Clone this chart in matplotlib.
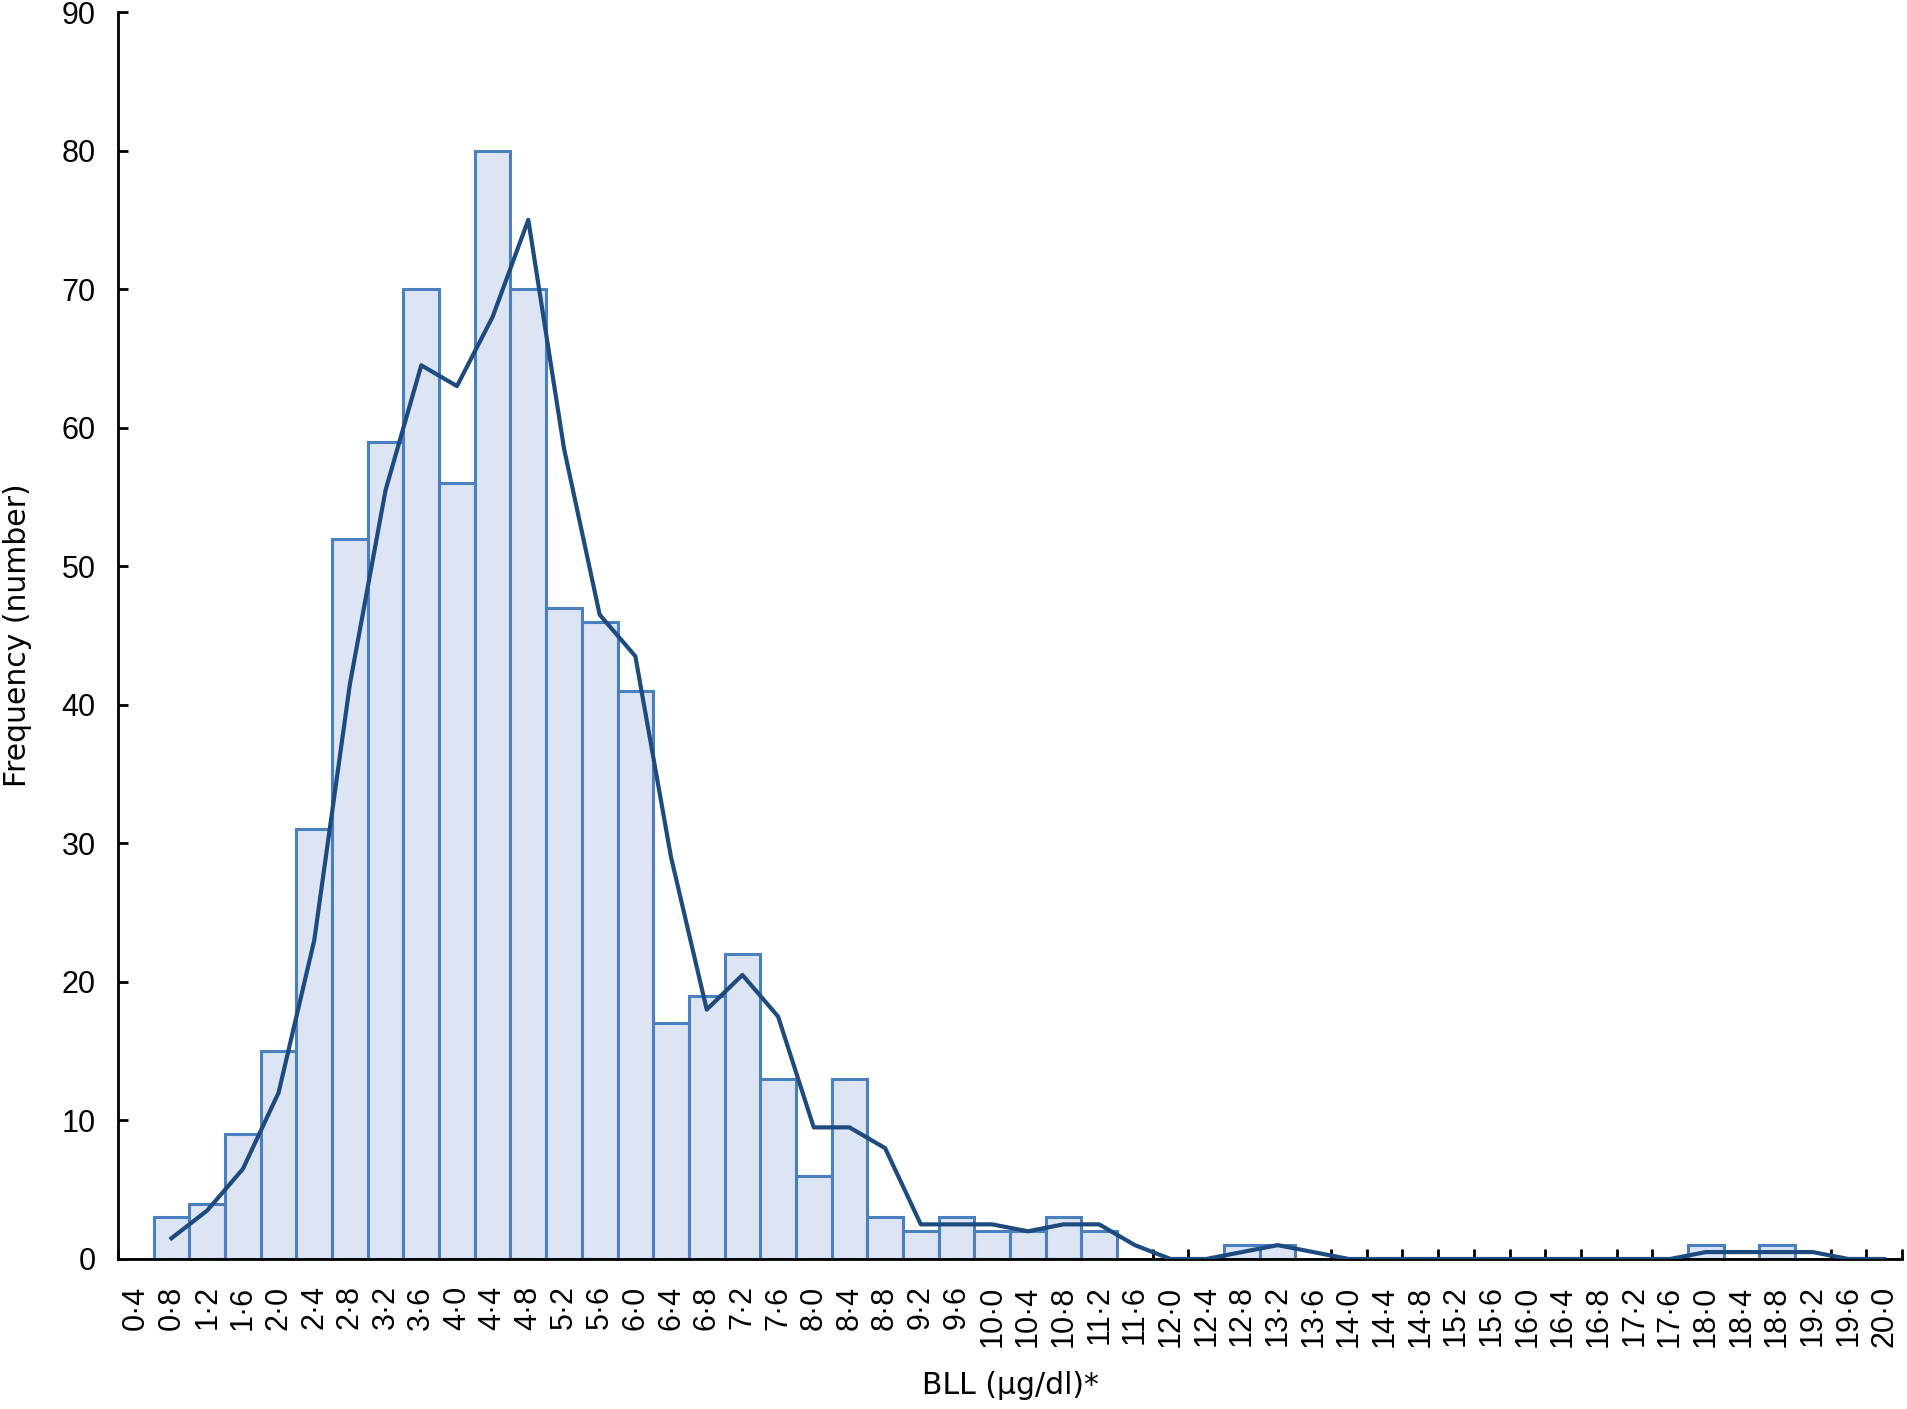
import numpy as np
from matplotlib import pyplot as plt
from matplotlib.ticker import FixedLocator

plt.rcParams['font.family'] = ['Liberation Sans', 'DejaVu Sans']

# BLL class labels (µg/dl)
bll_labels = ['0·4', '0·8', '1·2', '1·6', '2·0', '2·4', '2·8', '3·2', '3·6', '4·0',
              '4·4', '4·8', '5·2', '5·6', '6·0', '6·4', '6·8', '7·2', '7·6', '8·0',
              '8·4', '8·8', '9·2', '9·6', '10·0', '10·4', '10·8', '11·2', '11·6', '12·0',
              '12·4', '12·8', '13·2', '13·6', '14·0', '14·4', '14·8', '15·2', '15·6', '16·0',
              '16·4', '16·8', '17·2', '17·6', '18·0', '18·4', '18·8', '19·2', '19·6', '20·0']

# frequency per class (bars)
freq = [0, 3, 4, 9, 15, 31, 52, 59, 70, 56,
        80, 70, 47, 46, 41, 17, 19, 22, 13, 6,
        13, 3, 2, 3, 2, 2, 3, 2, 0, 0,
        0, 1, 1, 0, 0, 0, 0, 0, 0, 0,
        0, 0, 0, 0, 1, 0, 1, 0, 0, 0]

# trend line (starts at 0·8)
trend = [1.5, 3.5, 6.5, 12, 23, 41.5, 55.5, 64.5, 63,
         68, 75, 58.5, 46.5, 43.5, 29, 18, 20.5, 17.5, 9.5,
         9.5, 8, 2.5, 2.5, 2.5, 2, 2.5, 2.5, 1, 0,
         0, 0.5, 1, 0.5, 0, 0, 0, 0, 0, 0,
         0, 0, 0, 0, 0.5, 0.5, 0.5, 0.5, 0, 0]

W, H = 1908, 1409
fig = plt.figure(figsize=(W/100, H/100), dpi=100)
ax = fig.add_axes([118/W, 1 - 1259/H, (1902-118)/W, (1259-12)/H])

x = np.arange(len(bll_labels))
ax.bar(x, freq, width=1.0, color='#dde4f4', edgecolor='#4a80c0', linewidth=2.2, zorder=2)
ax.plot(x[1:], trend, color='#1d4b7f', linewidth=3.0, zorder=3)

ax.set_xlim(-0.5, len(bll_labels) - 0.5)
ax.set_ylim(0, 90)

for s in ['top', 'right']:
    ax.spines[s].set_visible(False)
for s in ['left', 'bottom']:
    ax.spines[s].set_linewidth(2.0)
    ax.spines[s].set_zorder(2.5)

ax.set_yticks(np.arange(0, 91, 10))
ax.tick_params(axis='y', direction='in', length=7, width=2.0, labelsize=22, pad=16)

ax.set_xticks(x)
ax.set_xticklabels(bll_labels, rotation=90, fontsize=22)
ax.tick_params(axis='x', which='major', length=0, pad=19)
ax.xaxis.set_minor_locator(FixedLocator(np.arange(len(bll_labels) + 1) - 0.5))
ax.tick_params(axis='x', which='minor', direction='in', length=7, width=2.0)

ax.set_ylabel('Frequency (number)', fontsize=21.5, family='DejaVu Sans')
ax.yaxis.set_label_coords(-0.0482, 0.5)
ax.set_xlabel('BLL (µg/dl)*', fontsize=21.5, family='DejaVu Sans')
ax.xaxis.set_label_coords(0.5, -0.0895)

fig.savefig('out.png', dpi=100)
